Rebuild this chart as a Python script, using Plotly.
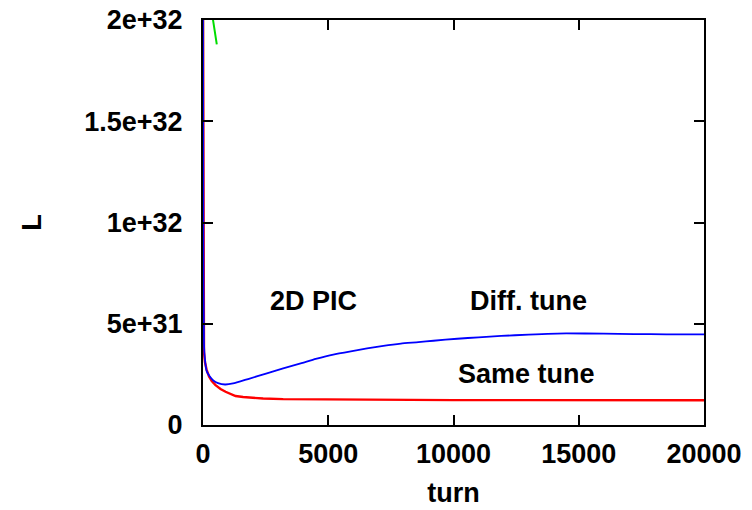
import plotly.graph_objects as go

# Same tune (red)
same_turn = [0, 20, 40, 80, 140, 240, 350, 500, 700, 900, 1100, 1300, 1600, 1850,
             2400, 3200, 4000, 5200, 7000, 10000, 13000, 16000, 20000]
same_L = [2.1e32, 8.0e31, 3.6e31, 3.1e31, 2.75e31, 2.4e31, 2.17e31, 1.97e31, 1.78e31,
          1.64e31, 1.52e31, 1.43e31, 1.38e31, 1.35e31, 1.31e31, 1.28e31, 1.27e31,
          1.27e31, 1.25e31, 1.23e31, 1.23e31, 1.23e31, 1.22e31]

# Diff. tune (blue)
diff_turn = [0, 15, 40, 80, 150, 280, 410, 600, 880, 1200, 1800, 2550, 3200, 3900,
             4500, 5200, 5900, 6550, 7200, 7900, 8600, 9200, 10150, 11000, 11900,
             13000, 14500, 16000, 17200, 18500, 20000]
diff_L = [2.0e32, 9.0e31, 4.0e31, 3.2e31, 2.65e31, 2.38e31, 2.2e31, 2.07e31, 2.0e31,
          2.05e31, 2.27e31, 2.55e31, 2.8e31, 3.04e31, 3.26e31, 3.48e31, 3.64e31,
          3.78e31, 3.91e31, 4.02e31, 4.09e31, 4.16e31, 4.26e31, 4.33e31, 4.4e31,
          4.46e31, 4.52e31, 4.51e31, 4.49e31, 4.48e31, 4.48e31]

# third run (green), mostly off scale
green_turn = [0, 10, 100, 250, 400, 470, 550]
green_L = [8.8e31, 3.0e32, 2.5e32, 2.2e32, 2.0e32, 1.94e32, 1.88e32]

x_ticks = [0, 5000, 10000, 15000, 20000]
x_labels = ["0", "5000", "10000", "15000", "20000"]
y_ticks = [0, 5e31, 1e32, 1.5e32, 2e32]
y_labels = ["0", "5e+31", "1e+32", "1.5e+32", "2e+32"]

FONT = "Liberation Sans"
SIZE = 27
txt = dict(family=FONT, size=SIZE, color="black", weight="bold")

fig = go.Figure()
fig.add_trace(go.Scatter(x=green_turn, y=green_L, mode="lines",
                         line=dict(color="#00dd00", width=2), showlegend=False))
fig.add_trace(go.Scatter(x=same_turn, y=same_L, mode="lines",
                         line=dict(color="#ff0000", width=2.4), showlegend=False))
fig.add_trace(go.Scatter(x=diff_turn, y=diff_L, mode="lines", line_shape="spline",
                         line=dict(color="#0000ff", width=1.8, smoothing=0.5), showlegend=False))

axis_common = dict(showgrid=False, zeroline=False, showline=True, linecolor="black",
                   linewidth=2, mirror="ticks", ticks="inside", ticklen=10,
                   tickwidth=2, tickcolor="black", tickfont=txt, automargin=False)

fig.update_xaxes(range=[0, 20000], tickvals=x_ticks, ticktext=x_labels,
                 ticklabelstandoff=4,
                 title=dict(text="turn", font=txt, standoff=15),
                 **axis_common)
fig.update_yaxes(range=[0, 2e32], tickvals=y_ticks, ticktext=y_labels,
                 ticklabelstandoff=13,
                 title=dict(text="L", font=txt, standoff=35),
                 **axis_common)

fig.add_annotation(x=4400, y=6.1e31, text="2D PIC", showarrow=False, font=txt)
fig.add_annotation(x=13000, y=6.1e31, text="Diff. tune", showarrow=False, font=txt)
fig.add_annotation(x=12900, y=2.5e31, text="Same tune", showarrow=False, font=txt)

fig.update_layout(width=752, height=510, margin=dict(l=203, r=48, t=20, b=85),
                  plot_bgcolor="white", paper_bgcolor="white")

fig.write_html("out.html")
